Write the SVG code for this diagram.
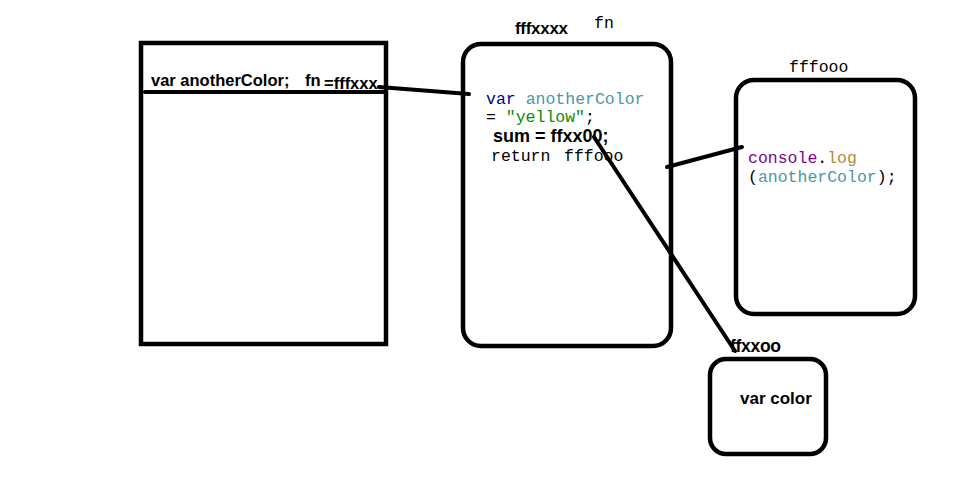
<svg xmlns="http://www.w3.org/2000/svg" width="975" height="502" viewBox="0 0 975 502">
<style>
.box{fill:none;stroke:#000;stroke-width:4.5}
.ln{stroke:#000;stroke-width:4;stroke-linecap:round;fill:none}
.b{font-family:"Liberation Sans",Arial,sans-serif;font-weight:bold;fill:#000}
.m{font-family:"Liberation Mono","Courier New",monospace;font-size:16.5px;fill:#000}
.kw{fill:#00008b}.id{fill:#4a97a6}.str{fill:#0a8a0a}.fn{fill:#800080}.mt{fill:#b08a3c}
</style>
<rect width="975" height="502" fill="#fff"/>
<g id="global">
<rect class="box" x="141" y="43" width="245" height="301"/>
<text class="b" x="151" y="86" font-size="16.5">var anotherColor;</text>
<text class="b" x="305" y="86" font-size="16.5">fn</text>
<text class="b" x="324" y="89" font-size="16.5">=fffxxx</text>
</g>
<g id="fn">
<rect class="box" x="463" y="44" width="208" height="302" rx="18"/>
<text class="b" x="515" y="34" font-size="17" letter-spacing="-0.3">fffxxxx</text>
<text class="m" x="594" y="28">fn</text>
<text class="m" x="486" y="104"><tspan class="kw">var</tspan> <tspan class="id">anotherColor</tspan></text>
<text class="m" x="486" y="122">= <tspan class="str">"yellow"</tspan>;</text>
<text class="b" x="493" y="142" font-size="18">sum = ffxx00;</text>
<text class="m" x="491" y="161">return</text>
<text class="m" x="564" y="161">fffooo</text>
</g>
<g id="fffooo">
<rect class="box" x="736" y="80" width="179" height="234" rx="18"/>
<text class="m" x="789" y="72">fffooo</text>
<text class="m" x="748" y="163"><tspan class="fn">console</tspan>.<tspan class="mt">log</tspan></text>
<text class="m" x="748" y="182">(<tspan class="id">anotherColor</tspan>);</text>
</g>
<g id="ffxxoo">
<rect class="box" x="710" y="359" width="116" height="95" rx="16"/>
<text class="b" x="730" y="352" font-size="17.5" letter-spacing="-0.3">ffxxoo</text>
<text class="b" x="740" y="404" font-size="17">var color</text>
</g>
<g id="connectors">
<line class="ln" x1="145" y1="92" x2="385" y2="92" stroke-width="3"/>
<line class="ln" x1="379" y1="87" x2="469" y2="94"/>
<line class="ln" x1="594" y1="137" x2="735" y2="351"/>
<line class="ln" x1="667" y1="167" x2="742" y2="147"/>
</g>
</svg>
